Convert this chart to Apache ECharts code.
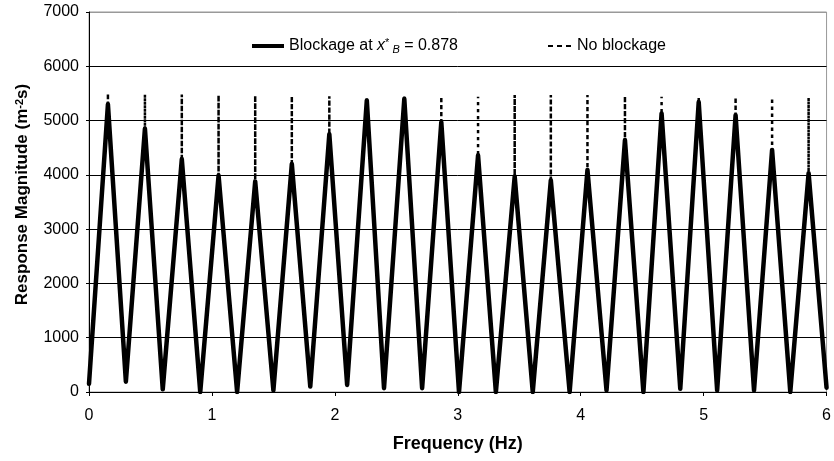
<!DOCTYPE html>
<html>
<head>
<meta charset="utf-8">
<script src="https://cdn.jsdelivr.net/npm/echarts@6/dist/echarts.min.js"></script>
<style>
    html, body { margin: 0; background: #fff; }
    #chart { width: 834px; height: 461px; }
</style>
</head>
<body>
<div id="chart"></div>
<script>
// troughs
var troughFreq = [0, 0.30, 0.60, 0.905, 1.205, 1.50, 1.80, 2.10, 2.40, 2.71, 3.01, 3.31, 3.61, 3.91, 4.21, 4.51, 4.81, 5.11, 5.41, 5.705, 6.0];
var troughVal = [150, 190, 50, 0, 0, 30, 100, 130, 70, 70, 0, 0, 0, 0, 30, 0, 60, 30, 30, 0, 80];
// resonance peaks, blockage at x*B = 0.878
var peakFreq = [0.154, 0.455, 0.755, 1.054, 1.352, 1.65, 1.955, 2.26, 2.565, 2.866, 3.165, 3.463, 3.757, 4.055, 4.36, 4.658, 4.96, 5.26, 5.557, 5.854];
var peakVal = [5300, 4850, 4290, 3990, 3880, 4200, 4750, 5370, 5400, 4970, 4360, 3970, 3900, 4090, 4640, 5130, 5340, 5100, 4460, 4030];
// peaks without blockage
var noBlockPeakVal = [5500, 5480, 5480, 5470, 5460, 5450, 5450, 5440, 5440, 5440, 5440, 5470, 5470, 5470, 5450, 5440, 5440, 5430, 5420, 5420];

var yLabels = ['0', '1000', '2000', '3000', '4000', '5000', '6000', '7000'];

var font = '"Liberation Sans", Arial, sans-serif';

var blockData = [], noBlockData = [];
for (var i = 0; i < troughFreq.length; i++) {
    blockData.push([troughFreq[i], troughVal[i]]);
    noBlockData.push([troughFreq[i], troughVal[i]]);
    if (i < peakFreq.length) {
        blockData.push([peakFreq[i], peakVal[i]]);
        // dashed curve runs under the solid one, then goes on up to its own peak
        noBlockData.push([peakFreq[i], peakVal[i]]);
        noBlockData.push([peakFreq[i], noBlockPeakVal[i]]);
        noBlockData.push([peakFreq[i], peakVal[i]]);
    }
}

var legendRich = {
    i: { fontFamily: font, fontSize: 16, fontStyle: 'italic', color: '#000' },
    sup: { fontFamily: font, fontSize: 11, color: '#000', verticalAlign: 'top', lineHeight: 10 },
    sub: { fontFamily: font, fontSize: 11, fontStyle: 'italic', color: '#000', verticalAlign: 'bottom', lineHeight: 8 }
};

var myChart = echarts.init(document.getElementById('chart'));
var option = {
    backgroundColor: '#fff',
    animation: false,
    grid: {
        left: 89,
        right: 5,
        top: 12,
        bottom: 69,
        show: true,
        borderColor: '#999',
        borderWidth: 1
    },
    legend: [
        {
            data: [{ name: 'Blockage', icon: 'rect' }],
            left: 247,
            top: 32,
            itemWidth: 32,
            itemHeight: 4,
            itemGap: 6,
            formatter: function () {
                return 'Blockage at {i|x}{sup|*}{sub| B} = 0.878';
            },
            textStyle: { fontFamily: font, fontSize: 16, color: '#000', lineHeight: 18, rich: legendRich }
        },
        {
            data: [{ name: 'No blockage', icon: 'path://M0,0h5v2h-5z M9,0h5v2h-5z M18,0h5v2h-5z' }],
            left: 543,
            top: 33,
            itemWidth: 25,
            itemHeight: 2,
            textStyle: { fontFamily: font, fontSize: 16, color: '#000' }
        }
    ],
    xAxis: {
        type: 'value',
        min: 0,
        max: 6,
        interval: 1,
        name: 'Frequency (Hz)',
        nameLocation: 'middle',
        nameGap: 43,
        nameTextStyle: { fontFamily: font, fontSize: 18, fontWeight: 'bold', color: '#000' },
        axisLine: { lineStyle: { color: '#000', width: 1 } },
        axisTick: { show: true, length: 4, lineStyle: { color: '#000' } },
        axisLabel: { fontFamily: font, fontSize: 16, color: '#000', margin: 16 },
        splitLine: { show: false }
    },
    yAxis: {
        type: 'value',
        min: 0,
        max: 7000,
        interval: 1000,
        name: 'Response Magnitude (m{sup|-2}s)',
        nameLocation: 'middle',
        nameGap: 58,
        nameTextStyle: {
            fontFamily: font, fontSize: 17, fontWeight: 'bold', color: '#000',
            padding: [0, 0, 0, 15],
            rich: {
                sup: { fontFamily: font, fontSize: 11, fontWeight: 'bold', color: '#000', verticalAlign: 'top', lineHeight: 10 }
            }
        },
        axisLine: { show: true, lineStyle: { color: '#000', width: 1 } },
        axisTick: { show: true, length: 3, lineStyle: { color: '#000' } },
        axisLabel: {
            fontFamily: font, fontSize: 16, color: '#000', margin: 10,
            formatter: function (v) { return yLabels[Math.round(v / 1000)]; }
        },
        splitLine: {
            show: true,
            lineStyle: { color: ['#000', '#000', '#000', '#000', '#000', '#000', '#000', '#999'], width: 1 }
        }
    },
    series: [
        {
            name: 'No blockage',
            type: 'line',
            symbol: 'none',
            z: 2,
            data: noBlockData,
            lineStyle: { color: '#000', width: 2.5, type: [3, 4] },
            itemStyle: { color: '#000' }
        },
        {
            name: 'Blockage',
            type: 'line',
            symbol: 'none',
            z: 3,
            data: blockData,
            lineStyle: { color: '#000', width: 4.5, join: 'round', cap: 'round' },
            itemStyle: { color: '#000' }
        }
    ]
};
myChart.setOption(option);
window.onresize = myChart.resize;
</script>
</body>
</html>
